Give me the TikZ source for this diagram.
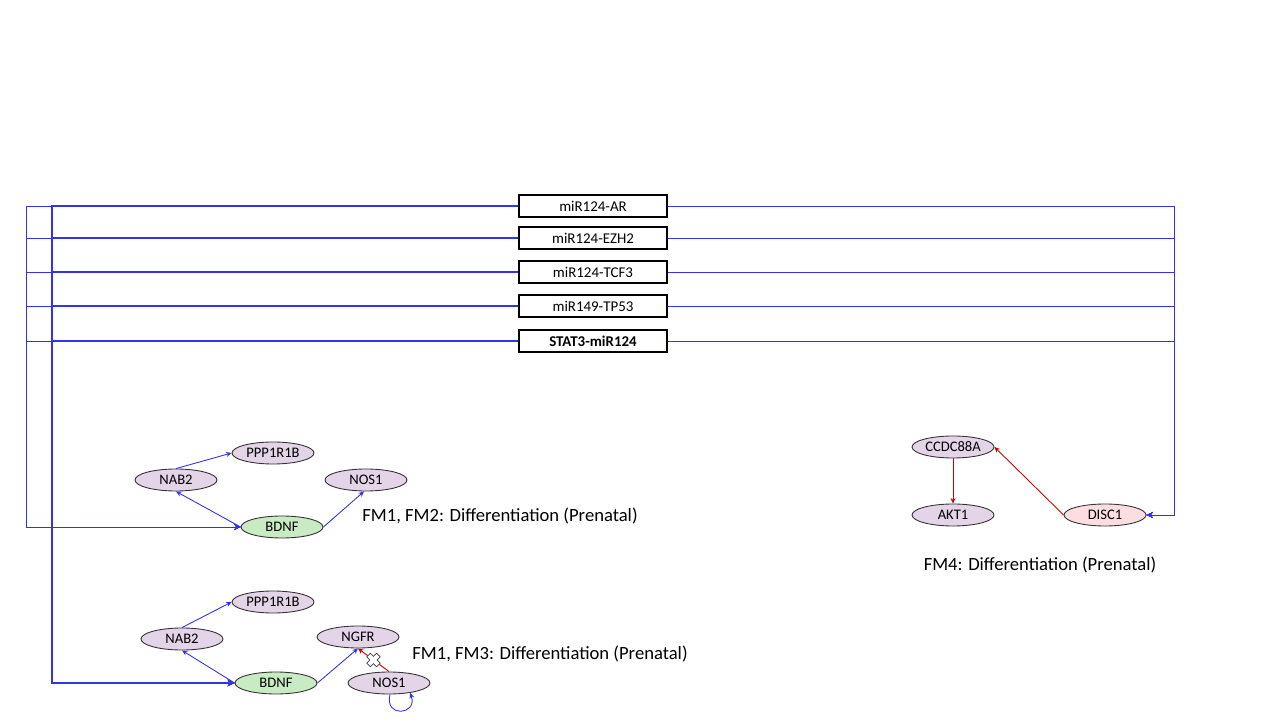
\documentclass[tikz,border=0pt]{standalone}
\usepackage{fontspec}
\setmainfont{Carlito}
\usepackage{tikz}
\usetikzlibrary{arrows.meta,shapes.geometric}
\definecolor{wireblue}{HTML}{3333E6}
\definecolor{actred}{HTML}{CC0000}
\definecolor{genefill}{HTML}{E4D4E8}
\definecolor{hubfill}{HTML}{C9EBC3}
\definecolor{riskfill}{HTML}{FCDDE1}
\tikzset{
	gene/.style={ellipse,draw=black!80,fill=genefill,line width=0.5pt,inner sep=0pt,
		minimum width=1.64cm,minimum height=0.44cm,font=\fontsize{8.3}{9}\selectfont},
	pairbox/.style={rectangle,draw=black,line width=0.6pt,fill=white,inner sep=0pt,
		minimum width=2.96cm,minimum height=0.44cm,font=\fontsize{8.5}{10}\selectfont},
	bluearrow/.style={-{Stealth[length=1.1mm,width=1mm]},draw=wireblue,line width=0.5pt},
	redarrow/.style={-{Stealth[length=1.1mm,width=1mm]},draw=actred,line width=0.5pt}
}

\begin{document}
\begin{tikzpicture}[x=0.02cm,y=0.02cm,
			hub/.style={gene,fill=hubfill},
			risk/.style={gene,fill=riskfill},
			thinwire/.style={-{Stealth[length=1.3mm,width=1.2mm]},draw=wireblue,line width=0.5pt},
			thickwire/.style={-{Stealth[length=1.4mm,width=1.3mm]},draw=wireblue,line width=1.4pt},
			caption/.style={font=\fontsize{10.6}{12}\selectfont,inner sep=0pt},
			xmark/.pic={\draw[black!75,fill=white,line width=0.4pt,rotate=45]
				(2.5,2.5) -- (2.5,7) -- (-2.5,7) -- (-2.5,2.5) -- (-7,2.5) -- (-7,-2.5)
				-- (-2.5,-2.5) -- (-2.5,-7) -- (2.5,-7) -- (2.5,-2.5) -- (7,-2.5) -- (7,2.5) -- cycle;}]
			\useasboundingbox (0,0) rectangle (1280,720);
			% pair boxes
			\foreach \n/\y/\t in {ar/514/miR124-AR,ezh/482/miR124-EZH2,tcf/448/miR124-TCF3,
				tp/414/miR149-TP53,stat/379/\textbf{STAT3-miR124}}
			\node[pairbox] (\n) at (593,\y) {\t};
			% FM1, FM2
			\node[gene] (nabA) at (176,240) {NAB2};
			\node[gene] (pppA) at (273,267) {PPP1R1B};
			\node[gene] (nosA) at (366,240) {NOS1};
			\node[hub] (bdnfA) at (282,193) {BDNF};
			\node[caption,anchor=west] (capA) at (362,204) {FM1, FM2: Differentiation (Prenatal)};
			% FM1, FM3
			\node[gene] (pppB) at (273,118) {PPP1R1B};
			\node[gene] (nabB) at (182,81) {NAB2};
			\node[gene] (ngfrB) at (358,83) {NGFR};
			\node[hub] (bdnfB) at (276,37) {BDNF};
			\node[gene] (nosB) at (389,37) {NOS1};
			\node[caption,anchor=west] (capB) at (412,66) {FM1, FM3: Differentiation (Prenatal)};
			% FM4
			\node[gene] (ccdc) at (953,273) {CCDC88A};
			\node[gene] (akt) at (953,205) {AKT1};
			\node[risk] (disc) at (1105,205) {DISC1};
			\node[caption] (capC) at (1040,155) {FM4: Differentiation (Prenatal)};
			% rails
			\coordinate (railA) at (26,193);
			\coordinate (railB) at (52,37);
			\coordinate (railC) at (1174,205);
			\foreach \n in {ar,ezh,tcf,tp,stat}{
				\draw[thinwire] (\n.west) -| (railA) -- (bdnfA.west);
				\draw[thinwire] (\n.east) -| (railC) -- (disc.east);
			}
			\foreach \n in {ar,ezh,tcf,tp,stat}
			\draw[thickwire] (\n.west) -| (railB) -- (bdnfB.west);
			% edges
			\draw[bluearrow] (bdnfA.west) -- (nabA.south);
			\draw[bluearrow] (nabA.north) -- (pppA.west);
			\draw[bluearrow] (bdnfA.east) -- (nosA.-100);
			\draw[bluearrow] (bdnfB.west) -- (nabB.south);
			\draw[bluearrow] (nabB.north) -- (pppB.west);
			\draw[bluearrow] (bdnfB.east) -- (ngfrB.south);
			\draw[redarrow] (nosB.north) -- coordinate[midway] (cut) (ngfrB.south);
			\pic at (cut) {xmark};
			\draw[bluearrow] (nosB.-85) .. controls +(-6,-24) and +(8,-22) .. (nosB.-25);
			\draw[redarrow] (disc.west) -- (ccdc.east);
			\draw[redarrow] (ccdc.south) -- (akt.north);
		\end{tikzpicture}
\end{document}
